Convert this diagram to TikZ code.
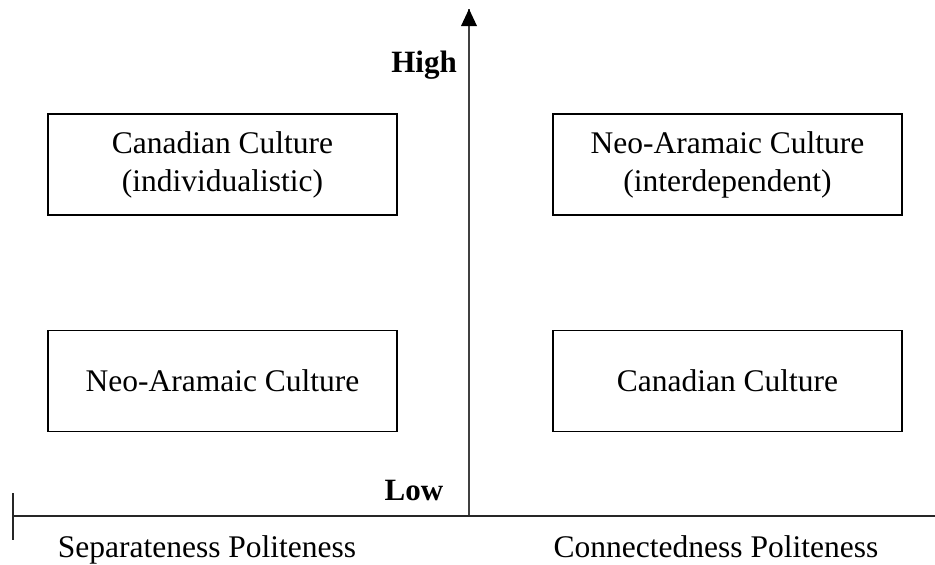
\documentclass[tikz,border=0pt]{standalone}
\usepackage{fontspec}
\setmainfont{Liberation Serif}
\usetikzlibrary{positioning,arrows.meta}
\tikzset{
  culture/.style = {draw, line width=1.6pt, minimum width=349pt, minimum height=101pt,
                    inner sep=0pt, align=center, font=\fontsize{31.5}{38}\selectfont},
  axislab/.style = {anchor=base, font=\fontsize{31.5}{38}\selectfont},
  level/.style   = {anchor=base, font=\fontsize{31}{38}\selectfont\bfseries},
  node distance  = 114pt
}

\begin{document}
\begin{tikzpicture}[x=1pt, y=-1pt]
  \useasboundingbox (0,0) rectangle (935,565);
  % the four boxes
  \node (CanHigh) [culture] at (222.5,164.5) {Canadian Culture\\(individualistic)};
  \node (NeoHigh) [culture] at (727.5,164.5) {Neo-Aramaic Culture\\(interdependent)};
  \node (NeoLow) [culture, below=of CanHigh] {Neo-Aramaic Culture};
  \node (CanLow) [culture, below=of NeoHigh] {Canadian Culture};
  % axes
  \coordinate (O) at (469,516);
  \coordinate (Top) at (469,9);
  \coordinate (Left) at (13,516);
  \coordinate (Right) at (935,516);
  \coordinate (TickUp) at (13,493);
  \coordinate (TickDown) at (13,540);
  \draw[line width=1.8pt, black!75] (O) -- (Top);
  \fill (Top) -- ++(-8,17) -- ++(16,0) -- cycle;
  \draw[line width=1.6pt, black!85] (Left) -- (Right);
  \draw[line width=1.6pt, black!85] (TickUp) -- (TickDown);
  % labels
  \node (High) [level] at (424,72) {High};
  \node (Low) [level] at (414,500) {Low};
  \node (Sep) [axislab] at (207,557) {Separateness Politeness};
  \node (Con) [axislab] at (716,557) {Connectedness Politeness};
\end{tikzpicture}
\end{document}
